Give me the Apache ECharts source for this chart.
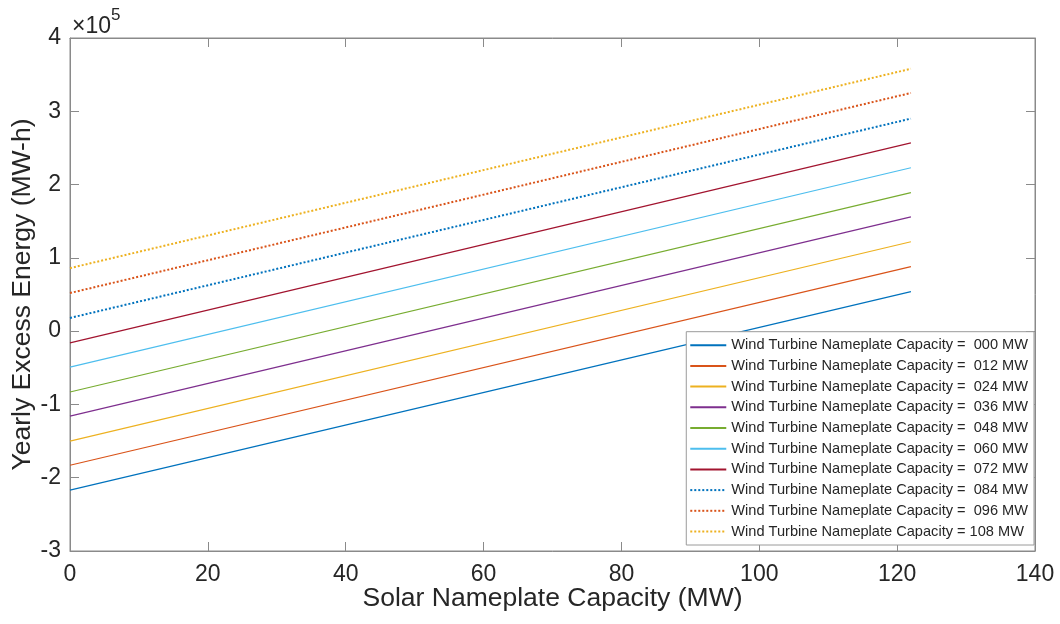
<!DOCTYPE html>
<html>
<head>
<meta charset="utf-8">
<script src="https://cdn.jsdelivr.net/npm/echarts@6/dist/echarts.min.js"></script>
<style>html,body{margin:0;padding:0;background:#fff}#c{width:1060px;height:624px}</style>
</head>
<body>
<div id="c"></div>
<script>
// Solar nameplate capacity (MW) at which values were read
const solarMW = [0, 122];
// Wind turbine capacities (legend labels)
const windLabels = ['000', '012', '024', '036', '048', '060', '072', '084', '096', '108'];
// Yearly excess energy (MW-h) for each wind capacity, at solarMW points
const w000 = [-217000, 54000];
const w012 = [-183000, 88000];
const w024 = [-150000, 122000];
const w036 = [-116000, 156000];
const w048 = [-83000, 189000];
const w060 = [-49000, 223000];
const w072 = [-16000, 257000];
const w084 = [18000, 290000];
const w096 = [52000, 325000];
const w108 = [86000, 358000];
const seriesValues = [w000, w012, w024, w036, w048, w060, w072, w084, w096, w108];
const colors = ['#0072BD', '#D95319', '#EDB120', '#7E2F8E', '#77AC30', '#4DBEEE', '#A2142F', '#0072BD', '#D95319', '#EDB120'];
const dotted = [false, false, false, false, false, false, false, true, true, true];
const xTicks = [0, 20, 40, 60, 80, 100, 120, 140];
const yTicks = [-3, -2, -1, 0, 1, 2, 3, 4];

const FONT = 'Liberation Sans, Arial, Helvetica, sans-serif';
const TXT = '#262626';
const AX = '#8a8a8a';

const series = windLabels.map((w, i) => ({
  name: 'Wind Turbine Nameplate Capacity = ' + (w === '108' ? '' : ' ') + w + ' MW',
  type: 'line',
  symbol: 'none',
  xAxisIndex: 0,
  yAxisIndex: 0,
  animation: false,
  data: solarMW.map((x, j) => [x, seriesValues[i][j]]),
  lineStyle: dotted[i] ? { color: colors[i], width: 2, type: [2, 2] } : { color: colors[i], width: 1.2 },
  itemStyle: { color: colors[i] }
}));

const tickStyle = { show: true, inside: true, length: 9, lineStyle: { color: AX } };

const chart = echarts.init(document.getElementById('c'));
chart.setOption({
  backgroundColor: '#fff',
  animation: false,
  color: colors,
  grid: { left: 70, right: 25, top: 38, bottom: 73, containLabel: false, outerBoundsMode: 'none',
          show: true, borderColor: AX, borderWidth: 1 },
  xAxis: [{
    type: 'value', min: xTicks[0], max: xTicks[xTicks.length - 1], interval: 20,
    name: 'Solar Nameplate Capacity (MW)', nameLocation: 'middle', nameGap: 34, nameMoveOverlap: false,
    nameTextStyle: { fontFamily: FONT, fontSize: 26.5, color: TXT },
    axisLine: { show: true, onZero: false, lineStyle: { color: AX } },
    axisTick: tickStyle,
    axisLabel: { fontFamily: FONT, fontSize: 23, color: TXT, margin: 12 },
    splitLine: { show: false }
  }, {
    type: 'value', position: 'top', min: 0, max: 140, interval: 20,
    axisLine: { show: true, onZero: false, lineStyle: { color: AX } },
    axisTick: tickStyle,
    axisLabel: { show: false }, splitLine: { show: false }
  }],
  yAxis: [{
    type: 'value', min: yTicks[0] * 100000, max: yTicks[yTicks.length - 1] * 100000, interval: 100000,
    name: 'Yearly Excess Energy (MW-h)', nameLocation: 'middle', nameGap: 34, nameMoveOverlap: false,
    nameTextStyle: { fontFamily: FONT, fontSize: 26.5, color: TXT },
    axisLine: { show: true, onZero: false, lineStyle: { color: AX } },
    axisTick: tickStyle,
    axisLabel: { fontFamily: FONT, fontSize: 23, color: TXT, margin: 9, formatter: v => String(v / 100000) },
    splitLine: { show: false }
  }, {
    type: 'value', position: 'right', min: -300000, max: 400000, interval: 100000,
    axisLine: { show: true, onZero: false, lineStyle: { color: AX } },
    axisTick: tickStyle,
    axisLabel: { show: false }, splitLine: { show: false }
  }],
  legend: {
    orient: 'vertical', right: 26, bottom: 79,
    backgroundColor: '#fff', borderColor: '#9a9a9a', borderWidth: 1,
    padding: [6, 6, 6, 3], itemWidth: 36, itemHeight: 14, itemGap: 5.7,
    itemStyle: { opacity: 0 },
    textStyle: { fontFamily: FONT, fontSize: 14.6, color: TXT, lineHeight: 14 },
    data: series.map(s => s.name)
  },
  graphic: [{
    type: 'text', left: 72, top: 7,
    style: {
      text: '{a|×10}{b|5}',
      rich: {
        a: { fontFamily: FONT, fontSize: 23, fill: TXT, verticalAlign: 'bottom', padding: [8, 0, 0, 0] },
        b: { fontFamily: FONT, fontSize: 17, fill: TXT, verticalAlign: 'top', padding: [0, 0, 12, 0] }
      }
    }
  }],
  series: series
});
</script>
</body>
</html>
